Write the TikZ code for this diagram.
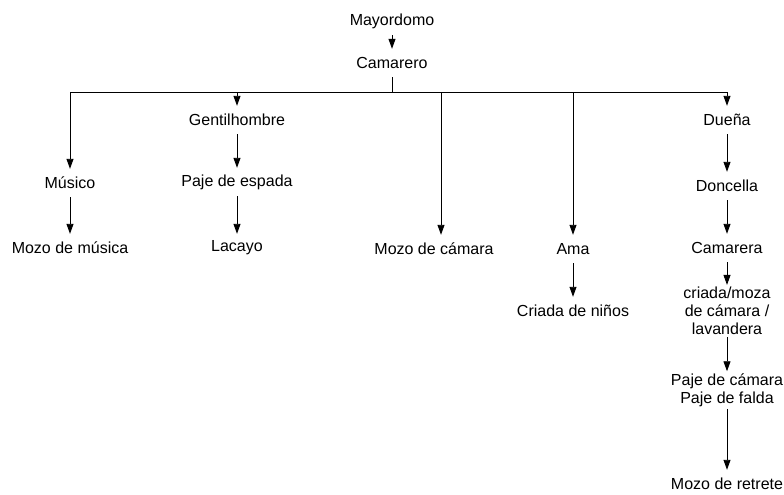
\documentclass[tikz,border=0pt]{standalone}
\usepackage{fontspec}
\setmainfont{Liberation Sans}
\usetikzlibrary{arrows.meta}
\begin{document}
\begin{tikzpicture}[x=1pt,y=-1pt,
		lbl/.style={font=\fontsize{16}{18}\selectfont, inner sep=2pt, minimum height=28pt, align=center},
		arr/.style={line width=0.9pt, -{Triangle[length=10pt,width=7pt]}},
		bar/.style={line width=0.9pt}]
		\useasboundingbox (0,0) rectangle (784,495);
		
		\node[lbl] (may)  at (392,21)  {Mayordomo};
		\node[lbl] (cam)  at (392,63)  {Camarero};
		\coordinate (fork) at (392,92);
		
		% columna izquierda
		\node[lbl] (mus)  at (70,183)  {Músico};
		\node[lbl] (mozm) at (70,248)  {Mozo de música};
		\node[lbl] (gen)  at (237,120) {Gentilhombre};
		\node[lbl] (pesp) at (237,182) {Paje de espada};
		\node[lbl] (lac)  at (237,248) {Lacayo};
		\node[lbl] (mozc) at (434,249) {Mozo de cámara};
		\node[lbl] (ama)  at (573,249) {Ama};
		\node[lbl] (crin) at (573,311) {Criada de niños};
		
		% columna derecha
		\node[lbl] (due)  at (727,120) {Dueña};
		\node[lbl] (don)  at (727,186) {Doncella};
		\node[lbl] (cama) at (727,248) {Camarera};
		\node[lbl] (cria) at (727,311) {criada/moza\\de cámara /\\lavandera};
		\node[lbl] (pcam) at (727,390) {Paje de cámara\\Paje de falda};
		\node[lbl] (mozr) at (727,484) {Mozo de retrete};
		
		\draw[arr] (may) -- (cam);
		\draw[bar] (cam) -- (fork);
		\draw[bar] (mus |- fork) -- (due |- fork);
		\foreach \n in {mus,gen,ama,due}
			\draw[arr] (\n |- fork) -- (\n);
		\draw[arr] ([xshift=7pt]mozc.north |- fork) -- ([xshift=7pt]mozc.north);
		
		\draw[arr] (mus)  -- (mozm);
		\draw[arr] (gen)  -- (pesp);
		\draw[arr] (pesp) -- (lac);
		\draw[arr] (ama)  -- (crin);
		\draw[arr] (due)  -- (don);
		\draw[arr] (don)  -- (cama);
		\draw[arr] (cama) -- (cria);
		\draw[arr] (cria) -- (pcam);
		\draw[arr] (pcam) -- (mozr);
\end{tikzpicture}
\end{document}
